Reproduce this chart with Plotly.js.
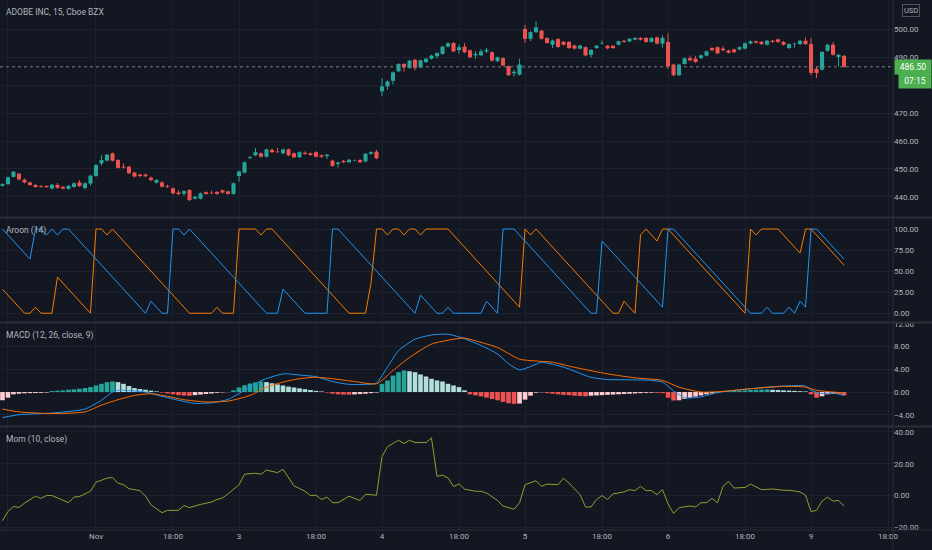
<!DOCTYPE html>
<html><head><meta charset="utf-8">
<script src="https://cdn.plot.ly/plotly-3.0.1.min.js"></script>
<style>html,body{margin:0;padding:0;background:#131722;}#chart{width:932px;height:550px;}</style>
</head><body><div id="chart"></div>
<script>
// ---- Candles: bar index -1 (Oct 30 15:45) .. 152 (Nov 9) ----
const open = [
 444.0,444.6,447.2,448.3,446.2,445.2,444.3,443.9,443.9,443.0,444.3,443.6,442.9,443.6,445.2,443.2,444.8,
 447.5,452.0,453.0,455.6,453.2,450.8,450.8,448.7,448.0,448.0,446.9,445.1,445.2,443.9,443.1,441.6,441.2,442.5,439.4,439.4,441.7,441.5,441.8,442.4,442.0,441.1,
 447.5,448.7,453.9,454.9,455.6,454.4,456.8,456.2,455.6,457.0,455.6,454.2,455.8,455.6,456.0,454.9,454.6,453.0,451.8,452.9,452.4,452.9,453.2,452.7,455.4,456.2,
 477.7,479.5,481.5,484.9,487.5,486.1,489.0,486.3,488.2,489.4,490.3,491.1,493.7,495.0,492.5,493.7,492.4,490.6,490.6,492.0,491.7,488.5,489.6,486.7,484.2,483.7,
 500.0,496.5,498.9,499.4,496.8,494.4,496.4,495.4,495.4,494.1,493.0,493.5,490.8,493.2,494.8,494.0,494.0,494.4,495.8,495.6,496.2,496.8,496.8,495.4,497.0,494.8,
 495.4,487.3,483.5,487.5,489.6,489.4,489.6,490.5,493.2,493.5,493.0,492.3,492.7,492.7,493.0,494.8,495.6,495.4,494.4,495.8,496.3,495.4,493.2,494.6,494.6,495.8,
 494.6,485.8,485.5,492.2,494.4,490.0,490.4];
const high = [
 444.9,447.3,449.3,448.6,446.6,445.5,444.6,444.2,444.2,444.7,445.0,443.9,444.3,445.2,446.1,445.2,447.9,
 451.7,454.9,455.4,455.9,453.5,452.0,451.1,449.0,448.3,448.4,447.3,446.4,445.6,444.4,443.4,442.4,442.4,442.8,440.4,441.6,442.0,442.3,442.1,442.7,442.3,445.2,
 449.4,452.7,454.6,457.4,455.9,457.3,457.4,457.5,457.3,457.3,455.9,456.3,456.3,455.9,456.3,455.2,455.4,453.3,452.6,453.2,453.6,453.3,453.5,455.7,456.3,456.8,
 482.5,481.6,484.8,487.8,487.8,489.0,489.3,489.1,489.7,490.8,491.7,494.0,495.2,495.3,494.5,494.9,492.7,492.0,492.8,493.3,492.0,490.2,489.9,487.0,485.4,489.3,
 501.5,499.2,502.7,499.7,497.1,496.2,496.7,495.7,495.7,494.4,494.4,493.8,492.8,494.3,495.9,494.3,494.3,495.9,496.1,496.8,497.1,497.1,497.1,497.1,497.3,497.7,
 498.5,487.6,487.6,489.8,490.5,490.4,490.9,492.3,493.5,493.8,493.9,492.6,493.0,493.8,495.2,495.9,495.9,495.7,496.1,496.1,496.6,495.7,494.9,495.1,496.1,497.0,
 496.8,486.6,492.1,494.7,495.3,491.1,490.7];
const low = [
 443.7,444.3,446.9,446.0,444.9,444.0,443.3,443.3,443.2,442.7,443.0,442.7,442.6,443.3,443.6,442.7,444.0,
 447.2,451.2,452.7,452.7,450.1,450.2,448.2,447.0,447.0,447.1,445.6,444.8,443.4,443.3,441.0,440.6,440.4,438.6,439.1,439.1,440.8,441.0,440.8,441.3,440.8,440.8,
 445.5,448.4,453.5,454.6,454.1,454.1,455.7,455.8,455.3,454.6,453.9,453.9,455.1,454.7,454.1,454.0,453.6,450.8,450.5,452.1,452.1,452.7,452.1,452.4,455.1,453.5,
 476.0,478.3,480.2,484.6,484.8,485.8,485.3,486.0,487.9,489.1,489.5,490.8,493.4,491.7,491.2,491.4,489.6,489.3,490.3,491.4,488.4,488.2,486.7,483.2,483.0,483.4,
 495.0,495.7,498.6,496.2,494.7,493.2,493.3,494.1,492.9,492.7,492.7,490.3,489.8,492.9,494.5,492.8,492.9,494.1,495.1,495.3,495.9,495.9,495.1,495.1,494.5,493.4,
 485.8,483.2,483.2,487.2,488.5,487.9,489.3,490.2,492.1,491.0,492.1,491.2,491.4,492.4,492.7,494.5,494.8,494.3,494.1,495.1,495.1,494.1,492.9,493.3,494.3,494.3,
 483.5,482.5,485.2,491.9,490.5,486.7,486.2];
const close = [
 444.6,447.0,449.0,446.3,445.2,444.3,443.6,443.6,443.5,444.4,443.3,443.0,444.0,444.9,443.9,444.9,447.6,
 451.4,453.2,455.1,453.0,450.4,450.5,448.5,447.3,447.5,447.4,446.1,446.1,443.7,443.6,441.3,441.1,442.1,438.9,440.1,441.3,441.1,441.3,441.1,441.6,441.1,444.9,
 449.1,452.4,454.2,456.0,454.4,457.0,456.0,456.0,457.0,454.9,454.2,456.0,455.4,455.0,454.4,454.4,455.1,451.1,452.3,452.4,453.3,453.0,452.4,455.4,456.0,453.8,
 479.5,481.3,484.5,487.5,486.3,488.7,486.1,488.8,489.4,490.5,491.4,493.7,494.9,492.0,493.5,491.7,489.9,491.1,492.0,492.5,488.7,489.9,487.0,483.5,484.7,487.3,
 496.5,498.9,500.6,496.5,495.0,495.9,493.6,494.4,493.2,493.0,494.1,490.6,492.5,494.0,495.0,493.1,493.2,495.6,495.4,496.5,496.8,496.2,495.4,496.8,494.8,496.8,
 486.7,483.5,487.3,489.5,488.8,488.2,490.6,492.0,492.4,491.3,492.4,491.5,491.7,493.5,494.9,495.6,495.1,494.6,495.8,495.4,495.4,494.4,494.6,494.8,495.8,494.6,
 484.3,484.3,491.8,494.4,490.8,490.8,486.5];

// ---- Aroon (14) vertices: bar index / percent ----
const aroonUpX = [-1,3,4,5,6,8,9,15,16,17,18,19,33,37,38,39,41,42,45,46,47,48,62,65,66,67,68,69,70,71,72,73,74,75,76,80,93,94,95,96,110,111,112,113,114,115,116,118,119,120,134,135,136,137,140,144,145,146,152];
const aroonUpY = [28.57,0,0,7.14,0,0,42.86,0,100,100,92.86,100,0,0,7.14,0,0,100,100,92.86,100,100,0,0,35.71,100,100,92.86,100,100,92.86,100,100,92.86,100,100,7.14,100,92.86,100,0,0,14.29,7.14,0,92.86,100,85.71,100,100,0,100,92.86,100,100,71.43,100,100,57.14];
const aroonDnX = [-1,4,5,6,7,8,9,10,11,25,26,28,29,30,31,32,33,47,49,50,54,58,59,60,74,75,78,79,80,81,86,87,89,90,92,106,107,108,119,120,121,135,137,138,139,141,142,143,144,145,146,147,152];
const aroonDnY = [100,64.29,100,100,92.86,100,92.86,100,100,0,14.29,0,0,100,100,92.86,100,0,0,28.57,0,0,100,100,0,21.43,0,0,7.14,0,0,14.29,0,100,100,0,0,85.71,7.14,100,100,0,0,7.14,0,0,7.14,0,14.29,7.14,100,100,64.29];

// ---- MACD (12, 26, close, 9) ----
const macdX = [-1,2,8,14,17,19,20,23,25,28,31,34,37,40,43,46,50,53,56,59,62,65,67,69,71,74,77,80,83,86,89,91,93,95,97,98,101,106,109,114,117,119,121,123,126,129,133,138,141,145,146,148,150,152];
const macdY = [-4.5,-4.0,-3.7,-3.0,-1.45,0,0.3,0.2,0,-0.75,-1.45,-2.0,-1.9,-1.3,0.3,2.0,3.2,3.0,2.7,1.85,1.35,1.35,1.6,4.4,7.3,9.3,10.05,10.2,9.4,8.2,6.7,5.0,3.9,4.5,5.25,5.1,4.4,2.6,2.2,2.15,2.05,1.75,0.2,-1.0,-0.85,-0.1,0.4,0.85,1.05,1.05,0.3,-0.3,-0.17,-0.58];
const signalX = [-1,2,8,14,17,20,23,26,29,32,36,40,44,47,50,53,56,59,63,67,70,73,77,81,83,86,89,93,97,99,103,109,114,119,122,126,130,135,141,145,147,150,152];
const signalY = [-3.0,-3.5,-3.8,-3.5,-2.3,-1.35,-0.6,-0.3,-0.75,-1.35,-1.75,-1.6,-0.6,0.85,1.75,2.35,2.6,2.35,1.85,1.45,3.8,6.1,8.45,9.3,9.5,8.75,7.85,5.8,5.4,5.25,4.35,3.2,2.5,2.05,0.85,0,0.12,0.58,1.0,0.87,0.3,0,-0.17];
const histogram = [
 -1.45,-1.0,-0.4,-0.3,-0.22,-0.2,-0.18,-0.15,-0.1,0.18,0.24,0.29,0.41,0.47,0.58,0.70,0.87,
 1.16,1.45,1.75,1.86,1.75,1.45,1.05,0.70,0.52,0.41,0.24,0.12,-0.1,-0.25,-0.4,-0.55,-0.62,-0.66,-0.55,-0.45,-0.35,-0.25,-0.15,-0.08,-0.03,0.3,
 0.8,1.2,1.5,1.7,1.85,1.75,1.55,1.35,1.15,0.95,0.8,0.65,0.5,0.35,0.2,0.1,-0.1,-0.3,-0.4,-0.45,-0.48,-0.42,-0.36,-0.3,-0.2,-0.1,
 1.45,2.04,2.9,3.5,3.8,3.67,3.5,3.1,2.74,2.33,2.04,1.86,1.45,1.16,0.87,0.3,-0.41,-0.58,-0.76,-0.99,-1.22,-1.45,-1.74,-1.98,-2.09,-2.03,
 -1.34,-0.64,-0.12,-0.05,-0.2,-0.3,-0.4,-0.5,-0.55,-0.65,-0.7,-0.75,-0.65,-0.6,-0.55,-0.5,-0.45,-0.4,-0.35,-0.3,-0.25,-0.2,-0.15,-0.12,-0.15,-0.2,
 -1.0,-1.5,-1.45,-1.2,-1.0,-0.8,-0.6,-0.4,-0.25,-0.1,0.1,0.15,0.2,0.25,0.3,0.35,0.4,0.42,0.45,0.4,0.35,0.3,0.25,0.2,0.15,0.1,
 -0.4,-1.0,-0.75,-0.4,-0.3,-0.35,-0.6];

// ---- Mom (10, close) vertices ----
const momX = [-1,0,1,2,3,4,5,6,7,8,11,12,13,15,16,18,19,20,21,22,24,25,26,28,29,31,32,33,35,37,38,39,40,42,43,45,46,47,49,50,52,54,55,56,57,58,59,60,62,64,65,67,68,69,71,72,73,74,76,77,78,79,80,81,82,83,85,86,87,89,90,92,93,94,96,97,98,100,101,102,104,105,106,107,108,109,110,112,113,114,115,116,117,118,119,120,121,122,124,125,126,127,128,129,130,131,132,134,135,137,138,139,141,142,144,145,146,147,148,149,150,151,152];
const momY = [-15.8,-10,-6.9,-7.5,-4.8,-2.8,-0.4,-1.8,0,0,-4.5,-1.0,-0.6,2.7,8.4,10.9,11.3,7.8,6.8,4.3,3.1,-0.4,-5.8,-10.8,-9.3,-9.3,-6.3,-7.6,-5.6,-4.1,-2.5,-1.5,1.0,6.8,13.4,14.0,13.4,16.0,14.4,16.5,6.1,2.7,0,0.2,-2.5,-1.0,-4.5,-4.5,-0.4,-3.1,0.8,0.2,24.5,30.7,34.8,32.7,34.8,33.3,33.3,36.2,12.1,12.8,11.1,5.6,7.4,4.0,2.7,2.7,1.6,-3.1,-6.6,-8.6,-4.5,6.8,9.3,5.8,7.2,6.8,10.9,7.8,0.6,-7.2,-7.2,-2.5,0,-2.5,1.0,2.3,3.7,3.1,5.8,3.1,3.1,0.6,3.7,-5.2,-11.3,-7.6,-6.6,-7.2,-4.5,-4.5,-1.8,-4.5,5.8,8.9,4.7,5.1,7.2,3.7,3.7,4.1,3.3,3.3,2.3,0.2,-10.1,-9.3,-3.5,-1.0,-3.5,-3.1,-6.6];

// ---- Axis ticks ----
const timeTickIdx = [0,16,30,42,56,68,82,94,108,120,134,146,160];
const timeTickText = ['16:00','Nov','18:00','3','18:00','4','18:00','5','18:00','6','18:00','9','18:00'];
const priceTicks = [440,450,460,470,480,490,500];
const priceTickText = ['440.00','450.00','460.00','470.00','','490.00','500.00']; // 480.00 sits under the countdown box
const aroonTicks = [0,25,50,75,100];
const macdTicks = [-4,0,4,8,12];
const momTicks = [-20,0,20,40];
const lastPrice = 486.50;
const countdown = '07:15';

const idx = close.map((_, k) => k - 1);

const UP = '#26a69a', DN = '#ef5350';
const isUp = close.map((c, k) => c >= open[k]);
const candleColors = isUp.map(u => u ? UP : DN);
const bodyBase = close.map((c, k) => Math.min(c, open[k]));
const bodyLen = close.map((c, k) => Math.max(Math.abs(c - open[k]), 0.15));
function wicks(up) {
  const xs = [], ys = [];
  idx.forEach((x, k) => { if (isUp[k] === up) { xs.push(x, x, null); ys.push(low[k], high[k], null); } });
  return {xs, ys};
}
const wUp = wicks(true), wDn = wicks(false);

const histColors = histogram.map((h, k) => {
  const p = k > 0 ? histogram[k - 1] : h;
  if (h >= 0) return h > p ? '#26a69a' : '#b2dfdb';
  return h < p ? '#ef5350' : '#ffcdd2';
});

const FONT = 'Roboto, "Liberation Sans", sans-serif';
const TXT = '#b2b5be';
const GRID = '#1c2030';

const traces = [
  {type:'scatter', mode:'lines', x:wUp.xs, y:wUp.ys, line:{color:UP, width:1}, xaxis:'x', yaxis:'y', connectgaps:false},
  {type:'scatter', mode:'lines', x:wDn.xs, y:wDn.ys, line:{color:DN, width:1}, xaxis:'x', yaxis:'y', connectgaps:false},
  {type:'bar', x:idx, base:bodyBase, y:bodyLen, width:0.74, marker:{color:candleColors, line:{width:0}}, xaxis:'x', yaxis:'y'},
  {type:'scatter', mode:'lines', x:aroonUpX, y:aroonUpY, line:{color:'#f57c00', width:1}, xaxis:'x', yaxis:'y2'},
  {type:'scatter', mode:'lines', x:aroonDnX, y:aroonDnY, line:{color:'#2196f3', width:1}, xaxis:'x', yaxis:'y2'},
  {type:'bar', x:idx, y:histogram, width:0.84, marker:{color:histColors, line:{width:0}}, xaxis:'x', yaxis:'y3'},
  {type:'scatter', mode:'lines', x:macdX, y:macdY, line:{color:'#2196f3', width:1, shape:'spline', smoothing:0.6}, xaxis:'x', yaxis:'y3'},
  {type:'scatter', mode:'lines', x:signalX, y:signalY, line:{color:'#ff6d00', width:1, shape:'spline', smoothing:0.6}, xaxis:'x', yaxis:'y3'},
  {type:'scatter', mode:'lines', x:momX, y:momY, line:{color:'#979c2e', width:1}, xaxis:'x', yaxis:'y4'}
];

function yax(domain, range, vals, fmt, suffix, text) {
  const a = {domain:domain, range:range, side:'right', anchor:'x', tickvals:vals,
    tickformat:fmt, ticksuffix:suffix || '', showgrid:true, gridcolor:GRID, gridwidth:1,
    zeroline:false, showline:false, ticks:'', fixedrange:true,
    tickfont:{family:FONT, size:8, color:TXT}};
  if (text) a.ticktext = text;
  return a;
}

const paneLabel = (text, y) => ({xref:'paper', yref:'paper', x:0, y:y, xanchor:'left', yanchor:'top',
  xshift:4, yshift:-5, text:text, showarrow:false, font:{family:FONT, size:8.5, color:TXT}});

const layout = {
  width:932, height:550,
  paper_bgcolor:'#131722', plot_bgcolor:'#131722',
  margin:{l:0, r:39, t:0, b:20},
  showlegend:false, barmode:'overlay',
  font:{family:FONT, color:TXT},
  xaxis:{range:[-1.45,160.9], anchor:'y4', tickvals:timeTickIdx, ticktext:timeTickText,
    showgrid:true, gridcolor:GRID, zeroline:false, showline:false, ticks:'',
    fixedrange:true, tickfont:{family:FONT, size:8, color:TXT}},
  yaxis: yax([0.5906,1], [432.86,510.36], priceTicks, '.2f', '', priceTickText),
  yaxis2: yax([0.3925,0.5887], [-10.4,113.1], aroonTicks, '.2f', '%'),
  yaxis3: yax([0.1962,0.3906], [-5.99,12.17], macdTicks, '.2f'),
  yaxis4: yax([0,0.1943], [-21.67,43.09], momTicks, '.2f'),
  shapes:[
    {type:'line', xref:'paper', yref:'paper', x0:0, x1:1.0437, y0:0.5896, y1:0.5896, line:{color:'#2a2e39', width:2}},
    {type:'line', xref:'paper', yref:'paper', x0:0, x1:1.0437, y0:0.3915, y1:0.3915, line:{color:'#2a2e39', width:2}},
    {type:'line', xref:'paper', yref:'paper', x0:0, x1:1.0437, y0:0.1953, y1:0.1953, line:{color:'#2a2e39', width:2}},
    {type:'line', xref:'paper', yref:'paper', x0:0, x1:1.0437, y0:0, y1:0, line:{color:'#2a2e39', width:1}},
    {type:'line', xref:'paper', yref:'paper', x0:1, x1:1, y0:-0.04, y1:1, line:{color:'#2a2e39', width:1}},
    {type:'line', xref:'paper', yref:'y', x0:0, x1:1, y0:lastPrice, y1:lastPrice, line:{color:'#787b86', width:1, dash:'dot'}}
  ],
  annotations:[
    paneLabel('ADOBE INC, 15, Cboe BZX', 1),
    paneLabel('Aroon (14)', 0.5887),
    paneLabel('MACD (12, 26, close, 9)', 0.3906),
    paneLabel('Mom (10, close)', 0.1943),
    {xref:'paper', yref:'y', x:1, y:lastPrice, xanchor:'left', yanchor:'middle', text:lastPrice.toFixed(2),
     showarrow:false, bgcolor:'#4caf50', width:34, height:12, borderpad:1, xshift:1,
     font:{family:FONT, size:8.5, color:'#ffffff'}},
    {xref:'paper', yref:'y', x:1, y:lastPrice, xanchor:'left', yanchor:'middle', text:countdown,
     showarrow:false, bgcolor:'#4caf50', width:30, height:12, borderpad:1, xshift:5, yshift:-14,
     font:{family:FONT, size:8.5, color:'#ffffff'}},
    {xref:'paper', yref:'paper', x:1, y:1, xanchor:'left', yanchor:'top', text:'USD', showarrow:false,
     xshift:9, yshift:-4, bordercolor:'#50535e', borderwidth:1, borderpad:1,
     font:{family:FONT, size:7.5, color:TXT}}
  ]
};

Plotly.newPlot('chart', traces, layout, {displayModeBar:false, staticPlot:true});
</script>
</body></html>
